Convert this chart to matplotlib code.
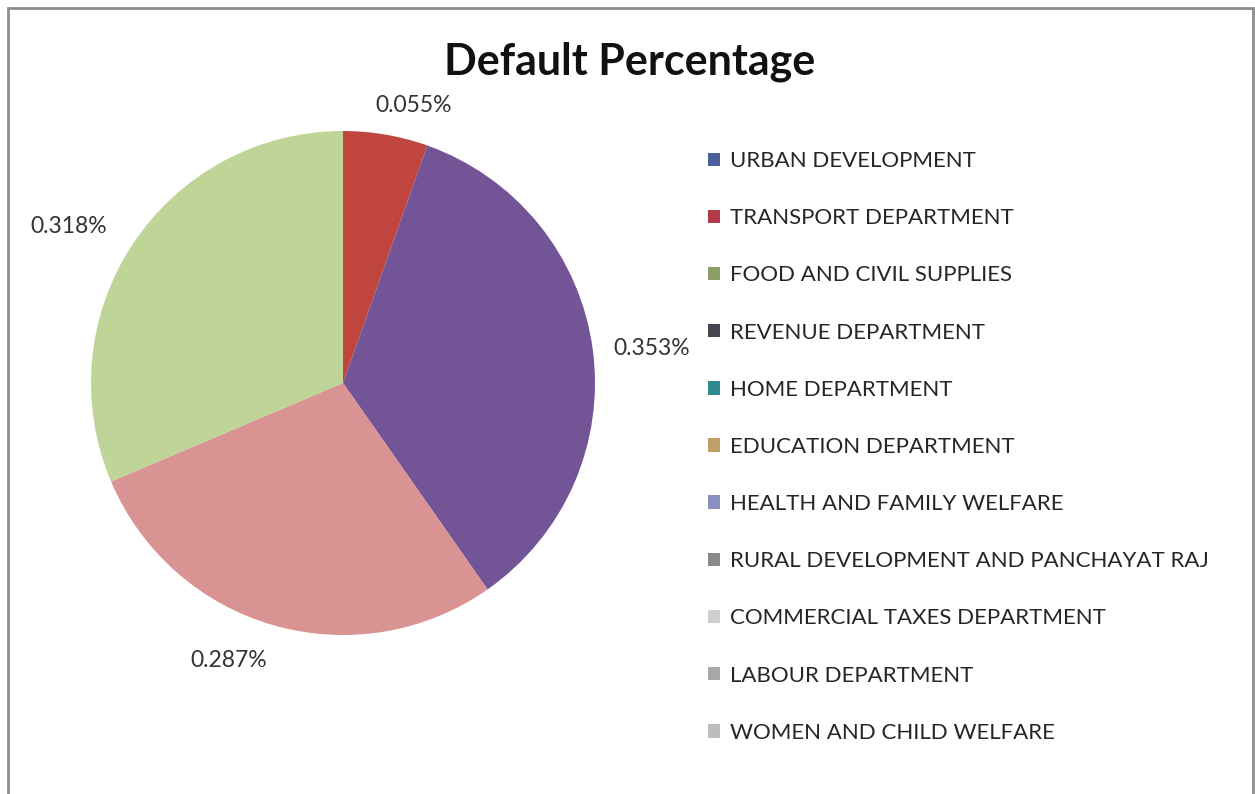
import matplotlib.pyplot as plt
from matplotlib.patches import Patch, Rectangle

departments = [
    'URBAN DEVELOPMENT', 'TRANSPORT DEPARTMENT', 'FOOD AND CIVIL SUPPLIES',
    'REVENUE DEPARTMENT', 'HOME DEPARTMENT', 'EDUCATION DEPARTMENT',
    'HEALTH AND FAMILY WELFARE', 'RURAL DEVELOPMENT AND PANCHAYAT RAJ',
    'COMMERCIAL TAXES DEPARTMENT', 'LABOUR DEPARTMENT', 'WOMEN AND CHILD WELFARE',
]
default_pct = [0, 0.055, 0, 0.353, 0, 0, 0, 0.287, 0.318, 0, 0]

wedge_colors = ['#4f6ea8', '#c0453f', '#9bbb59', '#735597', '#2e9aa6', '#e0a050',
                '#8c9cd0', '#d99392', '#bfd598', '#b0b0b0', '#c0c0c0']
legend_colors = ['#4d5f9a', '#b03a48', '#8c9e68', '#45454f', '#2e8a8e', '#c0a068',
                 '#8a90c0', '#8a8a8a', '#cfcfcf', '#a8a8a8', '#bdbdbd']

plt.rcParams['font.family'] = ['Lato', 'DejaVu Sans']

fig = plt.figure(figsize=(12.55, 7.94), dpi=100)
fig.patches.append(Rectangle((8 / 1255, -0.05), 1245 / 1255, 1.05 - 8 / 794,
                             transform=fig.transFigure, fill=False,
                             edgecolor='#8c8c8c', linewidth=2))

ax = fig.add_axes([91 / 1255, 1 - 635 / 794, 504 / 1255, 504 / 794])
wedges, _ = ax.pie(default_pct, colors=wedge_colors, startangle=90,
                   counterclock=False, radius=1.0)
ax.set_aspect('equal')
ax.set_xlim(-1, 1)
ax.set_ylim(-1, 1)

# value labels outside the visible slices
label_pos = {1: (0.28, 1.10), 3: (1.225, 0.135), 7: (-0.455, -1.10), 8: (-1.09, 0.62)}
for i, (x, y) in label_pos.items():
    ax.text(x, y, f'{default_pct[i]:.3f}%', ha='center', va='center',
            fontsize=16.5, color='#333333')

fig.text(0.502, 1 - 62 / 794, 'Default Percentage', ha='center', va='center',
         fontsize=31, fontweight='bold', color='#111111')

handles = [Patch(facecolor=c, edgecolor='none') for c in legend_colors]
fig.legend(handles, departments, loc='upper left',
           bbox_to_anchor=(697 / 1255, 1 - 140 / 794), frameon=False,
           fontsize=16, labelcolor='#262626', handlelength=0.55, handleheight=0.55,
           handletextpad=0.45, labelspacing=1.672, borderpad=0)

fig.savefig('out.png', dpi=100)
